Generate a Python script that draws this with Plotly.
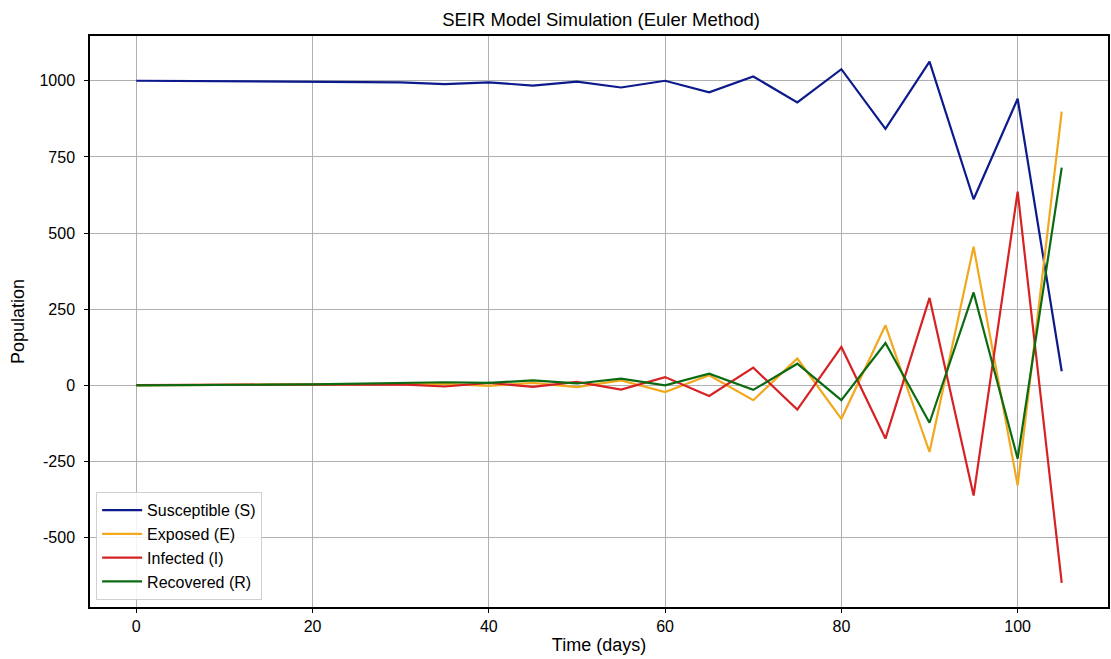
import plotly.graph_objects as go

time_days = [0, 5, 10, 15, 20, 25, 30, 35, 40, 45, 50, 55, 60, 65, 70, 75, 80, 85, 90, 95, 100, 105]
susceptible = [1000, 999, 998, 997, 997, 995, 995, 989, 995, 984, 997, 978, 1000, 962, 1014, 929, 1038, 842, 1063, 611, 941, 46]
exposed = [0, 1, 1, 2, 3, 4, 5, 5, -2, 8, -6, 16, -22, 33, -49, 88, -110, 197, -219, 455, -329, 899]
infected = [1, 1, 1, 2, 2, 2, 3, -4, 8, -5, 11, -14, 27, -35, 58, -80, 126, -175, 287, -362, 636, -649]
recovered = [0, 0, 1, 2, 3, 5, 7, 10, 8, 16, 6, 22, 0, 38, -15, 71, -49, 139, -123, 305, -241, 715]

x_ticks = [0, 20, 40, 60, 80, 100]
y_ticks = [-500, -250, 0, 250, 500, 750, 1000]
y_tick_labels = ["-500", "-250", "0", "250", "500", "750", "1000"]

series = [
    ("Susceptible (S)", susceptible, "#0c1a8c"),
    ("Exposed (E)", exposed, "#f2a81d"),
    ("Infected (I)", infected, "#d62222"),
    ("Recovered (R)", recovered, "#0b6b12"),
]

fig = go.Figure()
for name, vals, col in series:
    fig.add_trace(go.Scatter(x=time_days, y=vals, mode="lines", name=name,
                             line=dict(color=col, width=2.2)))

font_family = "Liberation Sans, Arial, sans-serif"
fig.update_layout(
    width=1111, height=659,
    margin=dict(l=90, r=1, t=36, b=52),
    paper_bgcolor="white", plot_bgcolor="white",
    font=dict(family=font_family, size=16, color="black"),
    title=dict(text="SEIR Model Simulation (Euler Method)", x=0.541, xanchor="center",
               y=0.97, yanchor="middle", font=dict(size=18.5)),
    showlegend=True,
    legend=dict(x=0.006, y=0.012, xanchor="left", yanchor="bottom",
                bgcolor="rgba(255,255,255,0.85)", bordercolor="#d0d0d0", borderwidth=1,
                font=dict(size=16), tracegroupgap=0, itemwidth=40),
)
fig.update_xaxes(
    range=[-5.25, 110.25], tickvals=x_ticks,
    showgrid=True, gridcolor="#b0b0b0", gridwidth=1,
    showline=True, linecolor="black", linewidth=1.5, mirror=True,
    ticks="outside", ticklen=4, tickcolor="black", zeroline=False,
    title=dict(text="Time (days)", standoff=4, font=dict(size=18)),
)
fig.update_yaxes(
    range=[-728, 1147], tickvals=y_ticks, ticktext=y_tick_labels,
    showgrid=True, gridcolor="#b0b0b0", gridwidth=1,
    showline=True, linecolor="black", linewidth=1.5, mirror=True,
    ticks="outside", ticklen=4, tickcolor="black", zeroline=False,
    ticklabelstandoff=6,
    title=dict(text="Population", standoff=10, font=dict(size=18)),
)

fig.write_html("out.html", config={"displayModeBar": False},
               post_script="document.body.style.margin='0';document.body.style.overflow='hidden';")
